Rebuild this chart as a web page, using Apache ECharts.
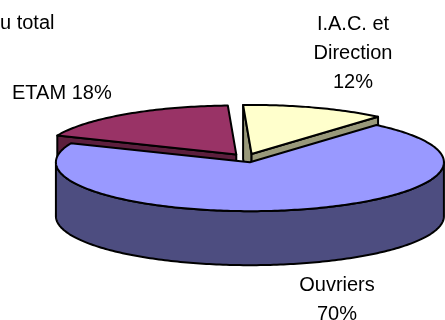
<!DOCTYPE html>
<html>
<head>
<meta charset="utf-8">
<script src="https://cdn.jsdelivr.net/npm/echarts@6/dist/echarts.min.js"></script>
<style>
  html, body { margin: 0; padding: 0; background: #ffffff; }
  #chart { width: 445px; height: 320px; }
</style>
</head>
<body>
<div id="chart"></div>
<script>
// Workforce breakdown (share of total headcount)
const categories = ['I.A.C. et\nDirection', 'Ouvriers', 'ETAM'];
const values = [12, 70, 18];
const titleText = 'u total';

// Presentation settings
const topColors = ['#FFFFCC', '#9999FF', '#993366'];
const labelJoin = ['\n', '\n', ' '];
const labelBoxes = [
  { x: 353, y: 10, align: 'center' },
  { x: 337, y: 271, align: 'center' },
  { x: 12, y: 79, align: 'left' }
];
const pie = { cx: 246, cy: 158, rx: 194, ry: 49, depth: 54, explode: 17, startAngle: -2.5 };
const FONT = '20px "Liberation Sans", Arial, sans-serif';

const total = values.reduce((s, v) => s + v, 0);
const rad = d => d * Math.PI / 180;

// Slice angles, clockwise from 12 o'clock
const slices = [];
let acc = pie.startAngle;
values.forEach((v, i) => {
  const a = acc, b = acc + v / total * 360;
  const m = (a + b) / 2;
  const ox = pie.explode * Math.sin(rad(m));
  const oy = -pie.explode * (pie.ry / pie.rx) * Math.cos(rad(m));
  slices.push({ a, b, m, ox, oy });
  acc = b;
});
// back-to-front drawing order
const order = slices.map((s, i) => i).sort((p, q) => slices[p].oy - slices[q].oy);
const rank = {};
order.forEach((idx, r) => { rank[idx] = r; });

function shade(hex, f) {
  const n = parseInt(hex.slice(1), 16);
  const r = Math.round(((n >> 16) & 255) * f);
  const g = Math.round(((n >> 8) & 255) * f);
  const b = Math.round((n & 255) * f);
  return 'rgb(' + r + ',' + g + ',' + b + ')';
}

function pt(s, ang, r, dz) {
  return [
    pie.cx + s.ox + r * pie.rx * Math.sin(rad(ang)),
    pie.cy + s.oy - r * pie.ry * Math.cos(rad(ang)) + dz
  ];
}

function arc(s, a, b, dz) {
  const out = [];
  const n = Math.max(2, Math.ceil(Math.abs(b - a)));
  for (let k = 0; k <= n; k++) out.push(pt(s, a + (b - a) * k / n, 1, dz));
  return out;
}

const edge = { stroke: '#000000', lineWidth: 2, lineJoin: 'round' };

function renderItem(params, api) {
  const i = params.dataIndex;
  const s = slices[i];
  const col = topColors[i];
  const h = pie.depth;
  const base = rank[i] * 10;
  const children = [];

  // radial faces that face the viewer
  const faces = [
    { ang: s.a, normal: s.a - 90 },
    { ang: s.b, normal: s.b + 90 }
  ];
  faces.forEach(f => {
    if (Math.cos(rad(f.normal)) < 0) {
      const c0 = pt(s, f.ang, 0, 0), r0 = pt(s, f.ang, 1, 0);
      const r1 = pt(s, f.ang, 1, h), c1 = pt(s, f.ang, 0, h);
      children.push({
        type: 'polygon', z2: base + 1,
        shape: { points: [c0, r0, r1, c1] },
        style: Object.assign({ fill: shade(col, 0.6) }, edge)
      });
    }
  });

  // curved outer wall, front half only
  const wa = Math.max(s.a, 90), wb = Math.min(s.b, 270);
  if (wb > wa) {
    const top = arc(s, wa, wb, 0);
    const bot = arc(s, wa, wb, h).reverse();
    children.push({
      type: 'polygon', z2: base + 2,
      shape: { points: top.concat(bot) },
      style: Object.assign({ fill: shade(col, 0.5) }, edge)
    });
  }

  // top face
  children.push({
    type: 'polygon', z2: base + 3,
    shape: { points: [pt(s, 0, 0, 0)].concat(arc(s, s.a, s.b, 0)) },
    style: Object.assign({ fill: col }, edge)
  });

  // data label
  const pct = Math.round(api.value(0) / total * 100) + '%';
  const lb = labelBoxes[i];
  children.push({
    type: 'text', z2: 100,
    style: {
      x: lb.x, y: lb.y,
      text: categories[i] + labelJoin[i] + pct,
      font: FONT, fill: '#000000',
      align: lb.align, verticalAlign: 'top',
      lineHeight: 29
    }
  });

  return { type: 'group', children };
}

const chart = echarts.init(document.getElementById('chart'), null, { renderer: 'canvas' });
chart.setOption({
  backgroundColor: '#ffffff',
  animation: false,
  title: {
    text: titleText, left: 0, top: 9, padding: 0,
    textStyle: { fontFamily: '"Liberation Sans", Arial, sans-serif', fontSize: 20, fontWeight: 'normal', color: '#000000', lineHeight: 29 }
  },
  series: [{
    type: 'custom',
    coordinateSystem: 'none',
    renderItem: renderItem,
    data: values.map((v, i) => ({ name: categories[i], value: v }))
  }]
});
</script>
</body>
</html>
